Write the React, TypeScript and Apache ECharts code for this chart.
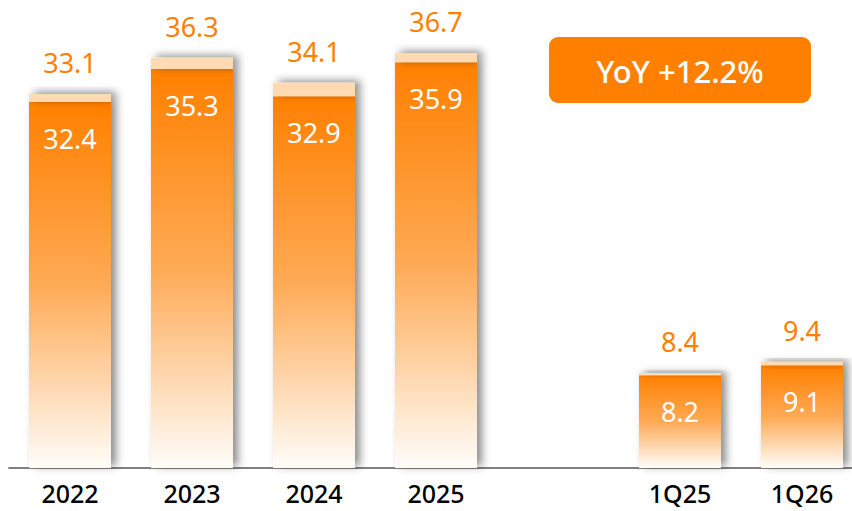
import React, { useEffect, useRef } from "react";
import * as echarts from "echarts";

const categories = ["2022", "2023", "2024", "2025", "", "1Q25", "1Q26"];
const baseValues: (number | null)[] = [32.4, 35.3, 32.9, 35.9, null, 8.2, 9.1];
const totalValues: (number | null)[] = [33.1, 36.3, 34.1, 36.7, null, 8.4, 9.4];
const yoyText = "YoY +12.2%";

export default function App() {
  const ref = useRef<HTMLDivElement>(null);
  useEffect(() => {
    if (!ref.current) return;
    const chart = echarts.init(ref.current, undefined, { renderer: "svg" });
    const topValues = totalValues.map((t, i) =>
      t == null || baseValues[i] == null ? null : Math.round((t - (baseValues[i] as number)) * 10) / 10
    );
    const font = "Noto Sans";
    chart.setOption({
      animation: false,
      grid: { left: 9, width: 854, top: 16, height: 452, containLabel: false, outerBoundsMode: "none" },
      xAxis: {
        type: "category",
        data: categories,
        axisLine: { show: true, lineStyle: { color: "#808080", width: 2 } },
        axisTick: { show: false },
        axisLabel: { color: "#000", fontSize: 25, fontFamily: font, fontWeight: 500, margin: 12 },
      },
      yAxis: { type: "value", min: 0, max: 40, show: false, splitLine: { show: false } },
      series: [
        {
          type: "bar",
          stack: "s",
          barWidth: 82,
          data: baseValues.map((v) => (v == null ? "-" : v)),
          itemStyle: {
            color: new echarts.graphic.LinearGradient(0, 0, 0, 1, [
              { offset: 0, color: "#FF8000" },
              { offset: 0.5, color: "#FEAA55" },
              { offset: 1, color: "#FFFDFA" },
            ]),
            shadowColor: "rgba(0,0,0,0.45)",
            shadowBlur: 8,
            shadowOffsetX: 5,
            shadowOffsetY: -2,
          },
          label: {
            show: true,
            position: "insideTop",
            distance: 23,
            color: "#fff",
            fontSize: 27,
            fontFamily: font,
          },
        },
        {
          type: "bar",
          stack: "s",
          barWidth: 82,
          data: topValues.map((v) => (v == null ? "-" : v)),
          itemStyle: {
            color: "#FFDAB3",
            shadowColor: "rgba(0,0,0,0.45)",
            shadowBlur: 8,
            shadowOffsetX: 5,
            shadowOffsetY: -2,
          },
          label: {
            show: true,
            position: "top",
            distance: 18,
            color: "#FF8000",
            fontSize: 27,
            fontFamily: font,
            formatter: (p: any) => String(totalValues[p.dataIndex]),
          },
        },
      ],
      graphic: [
        {
          type: "group",
          left: 549,
          top: 37,
          children: [
            {
              type: "rect",
              shape: { x: 0, y: 0, width: 262, height: 66, r: 9 },
              style: { fill: "#FF8000" },
            },
            {
              type: "text",
              x: 131,
              y: 34,
              style: {
                text: yoyText,
                fill: "#fff",
                fontSize: 31,
                fontFamily: font,
                fontWeight: 500,
                align: "center",
                verticalAlign: "middle",
              },
            },
          ],
        },
      ],
    });
    return () => chart.dispose();
  }, []);
  return <div ref={ref} style={{ width: 852, height: 511, position: "absolute", left: 0, top: 0 }} />;
}
